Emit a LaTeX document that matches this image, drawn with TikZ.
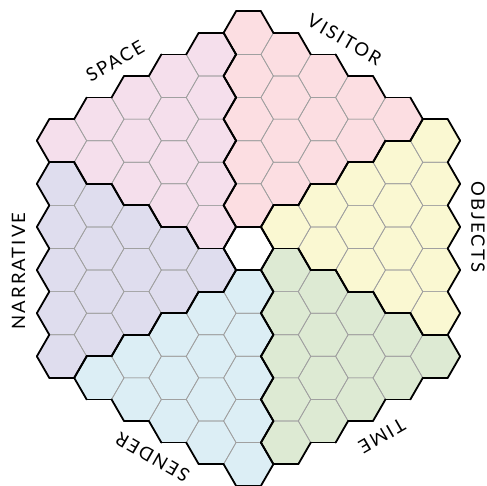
\documentclass[tikz,border=0pt]{standalone}
\usepackage{fontspec}
\setmainfont{Lato}
\newfontfamily\labfont[LetterSpace=11]{Lato}
\definecolor{sec0}{HTML}{FFFFFF}
\definecolor{sec1}{HTML}{FCDEE2}
\definecolor{sec2}{HTML}{FAF8D2}
\definecolor{sec3}{HTML}{DDEAD3}
\definecolor{sec4}{HTML}{DCEEF5}
\definecolor{sec5}{HTML}{DFDDEE}
\definecolor{sec6}{HTML}{F5DFEC}
\definecolor{gridgray}{HTML}{A0A0A0}
\newcommand\hexsector[2]{%
  \edef\hQ{\the\numexpr#1\relax}\edef\hR{\the\numexpr#2\relax}%
  \edef\hS{\the\numexpr-\hQ-\hR\relax}%
  \def\hs{6}%
  \ifnum\hR>0 \ifnum\hS>-1 \def\hs{5}\fi\fi
  \ifnum\hQ<1 \ifnum\hS<0 \def\hs{4}\fi\fi
  \ifnum\hQ>0 \ifnum\hR>-1 \def\hs{3}\fi\fi
  \ifnum\hR<0 \ifnum\hS<1 \def\hs{2}\fi\fi
  \ifnum\hQ>-1 \ifnum\hS>0 \def\hs{1}\fi\fi
  \ifnum\hQ=0 \ifnum\hR=0 \def\hs{0}\fi\fi
  \ifnum\hQ>5 \def\hs{7}\fi \ifnum\hQ<-5 \def\hs{7}\fi
  \ifnum\hR>5 \def\hs{7}\fi \ifnum\hR<-5 \def\hs{7}\fi
  \ifnum\hS>5 \def\hs{7}\fi \ifnum\hS<-5 \def\hs{7}\fi
}
\tikzset{
  thinline/.style={draw=gridgray, line width=0.7pt, line join=round},
  thickline/.style={draw=black, line width=1.8pt, line cap=round, line join=round},
  lab/.style={font=\labfont\fontsize{18.5}{21}\selectfont, inner sep=0pt, text height=13.3pt, text depth=0pt, anchor=center}
}
\begin{document}
\begin{tikzpicture}[x=1pt,y=-1pt]
\useasboundingbox (0,0) rectangle (487,486);
\def\HR{24.9}
\def\HV{43.13}
% fills
\foreach \q in {-5,...,5}{
  \foreach \r in {-5,...,5}{
    \hexsector{\q}{\r}%
    \ifnum\hs<7
      \pgfmathsetmacro\cx{248.5+1.5*\HR*\q}%
      \pgfmathsetmacro\cy{248.5+\HV*(\r+\q/2)}%
      \fill[sec\hs] (\cx,\cy) +(0:\HR) -- +(60:\HR) -- +(120:\HR) -- +(180:\HR) -- +(240:\HR) -- +(300:\HR) -- cycle;
    \fi
  }
}
% thin grid
\foreach \q in {-5,...,5}{
  \foreach \r in {-5,...,5}{
    \hexsector{\q}{\r}%
    \ifnum\hs<7
      \pgfmathsetmacro\cx{248.5+1.5*\HR*\q}%
      \pgfmathsetmacro\cy{248.5+\HV*(\r+\q/2)}%
      \draw[thinline] (\cx,\cy) +(0:\HR) -- +(60:\HR) -- +(120:\HR) -- +(180:\HR) -- +(240:\HR) -- +(300:\HR) -- cycle;
    \fi
  }
}
% thick boundaries
\foreach \q in {-5,...,5}{
  \foreach \r in {-5,...,5}{
    \hexsector{\q}{\r}%
    \let\mys\hs
    \ifnum\mys<7
      \pgfmathsetmacro\cx{248.5+1.5*\HR*\q}%
      \pgfmathsetmacro\cy{248.5+\HV*(\r+\q/2)}%
      \foreach \a/\dq/\dr in {-30/1/-1, -90/0/-1, -150/-1/0, 150/-1/1, 90/0/1, 30/1/0}{
        \hexsector{\q+\dq}{\r+\dr}%
        \ifnum\hs=\mys\relax\else
          \draw[thickline] (\cx,\cy) +(\a-30:\HR) -- +(\a+30:\HR);
        \fi
      }
    \fi
  }
}
% labels
\node[lab, rotate=30]   (space)     at (115,61.2)  {SPACE};
\node[lab, rotate=-30]  (visitor)   at (344.5,39.6) {VISITOR};
\node[lab, rotate=-90]  (objects)   at (478,226.9) {OBJECTS};
\node[lab, rotate=210]  (time)      at (382,435.9) {TIME};
\node[lab, rotate=150]  (sender)    at (152.5,457.4) {SENDER};
\node[lab, rotate=90]   (narrative) at (18.5,271)    {NARRATIVE};
\end{tikzpicture}
\end{document}
